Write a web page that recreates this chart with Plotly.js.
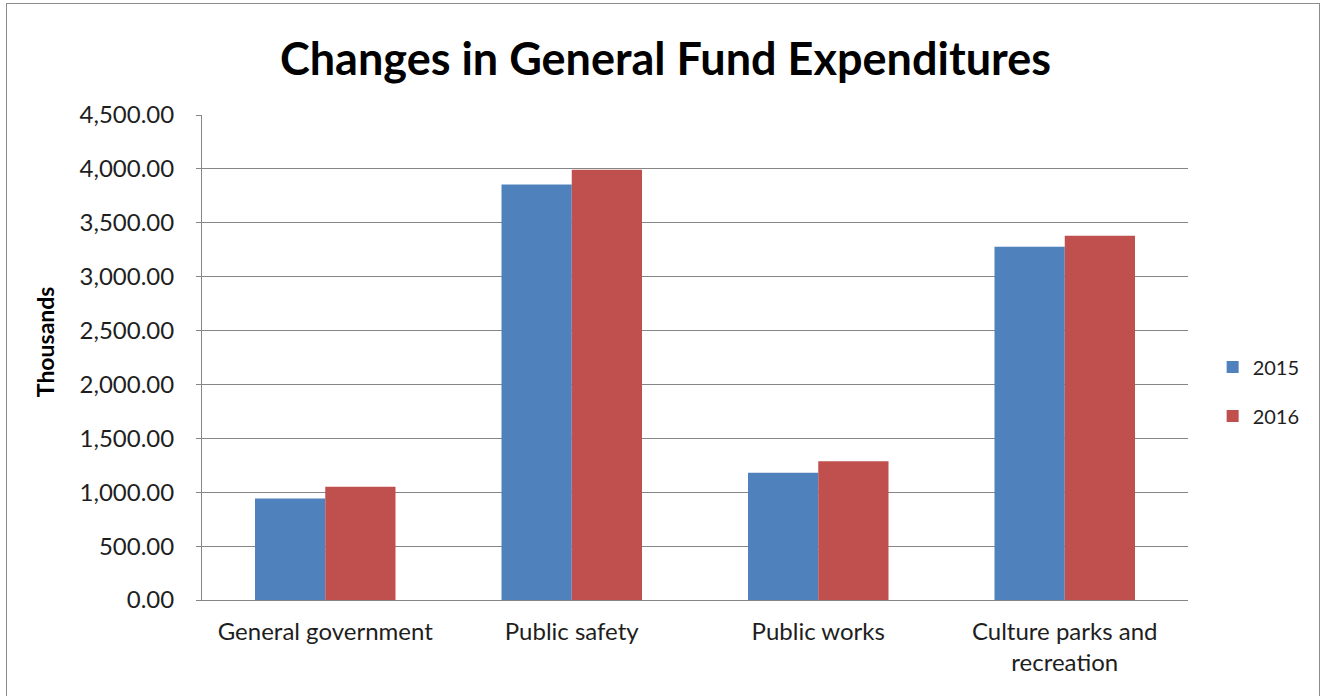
<!DOCTYPE html>
<html>
<head>
<meta charset="utf-8">
<script src="https://cdn.plot.ly/plotly-3.0.1.min.js"></script>
<style>
  html, body { margin: 0; padding: 0; background: #fff; }
  #wrap { position: absolute; left: 0; top: 0; width: 1323px; height: 696px; }
  #frame { position: absolute; left: 6px; top: 3px; width: 1312px; height: 700px; border: 1px solid #8c8c8c; pointer-events: none; }
  #chart { width: 1323px; height: 696px; }
</style>
</head>
<body>
<div id="wrap">
  <div id="chart"></div>
  <div id="frame"></div>
</div>
<script>
const categories = ["General government", "Public safety", "Public works", "Culture parks and<br>recreation"];
const values2015 = [942, 3854, 1180, 3277];
const values2016 = [1050, 3993, 1288, 3379];
const seriesNames = ["2015", "2016"];
const yTicks = [0, 500, 1000, 1500, 2000, 2500, 3000, 3500, 4000, 4500];
const yAxisTitle = "Thousands";

const font = "Lato, 'Open Sans', 'Liberation Sans', sans-serif";
const textColor = "#1e1e1e";

const traces = [
  { type: "bar", name: seriesNames[0], x: categories, y: values2015,
    marker: { color: "#4F81BD" }, legendgroup: "a", hoverinfo: "y" },
  { type: "bar", name: seriesNames[1], x: categories, y: values2016,
    marker: { color: "#C0504D" }, legendgroup: "b", hoverinfo: "y" }
];

const layout = {
  width: 1323, height: 696,
  margin: { l: 202, r: 135, t: 115, b: 96 },
  paper_bgcolor: "#ffffff", plot_bgcolor: "#ffffff",
  font: { family: font, color: textColor },
  title: { text: "<b>Changes in General Fund Expenditures</b>",
           font: { family: font, size: 45, color: "#000000" },
           x: 0.503, xref: "container", xanchor: "center",
           y: 0.915, yref: "container", yanchor: "middle" },
  barmode: "group",
  bargap: 0.43,
  bargroupgap: 0,
  xaxis: {
    type: "category",
    tickfont: { family: font, size: 24, color: textColor },
    showline: true, linecolor: "#868686", linewidth: 1,
    showgrid: false, ticks: "", ticklen: 0,
    ticklabelstandoff: 10
  },
  yaxis: {
    range: [0, 4500],
    tickvals: yTicks,
    tickformat: ",.2f",
    tickfont: { family: font, size: 24, color: textColor },
    showgrid: true, gridcolor: "#868686", gridwidth: 1,
    showline: true, linecolor: "#868686", linewidth: 1,
    ticks: "outside", ticklen: 5, tickcolor: "#868686",
    ticklabelstandoff: 17,
    zeroline: false
  },
  annotations: [
    { text: "<b>" + yAxisTitle + "</b>", xref: "paper", yref: "paper",
      x: -0.159, y: 0.532, xanchor: "center", yanchor: "middle",
      textangle: -90, showarrow: false,
      font: { family: font, size: 23, color: "#000000" } }
  ],
  legend: {
    x: 1.025, xanchor: "left", y: 0.43, yanchor: "middle",
    font: { family: font, size: 20, color: textColor },
    traceorder: "grouped", tracegroupgap: 20,
    bgcolor: "rgba(0,0,0,0)"
  },
  showlegend: true
};

Plotly.newPlot("chart", traces, layout, { displayModeBar: false, staticPlot: true });
</script>
</body>
</html>
